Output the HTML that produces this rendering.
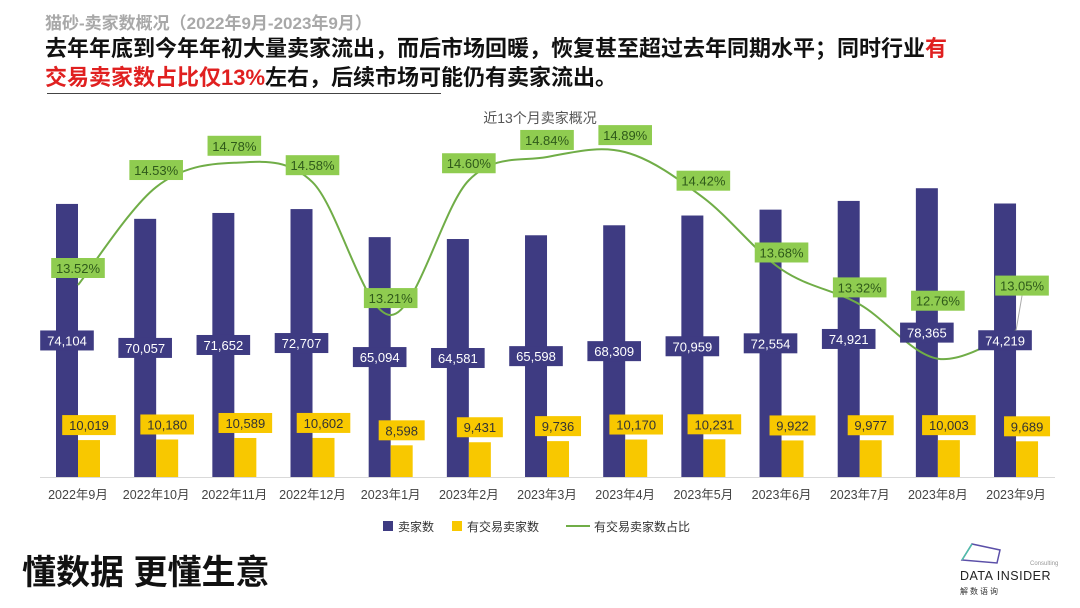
<!DOCTYPE html>
<html><head><meta charset="utf-8"><style>
body{margin:0;width:1080px;height:608px;background:#fff;overflow:hidden;position:relative;font-family:"Liberation Sans","Noto Sans CJK SC",sans-serif}
.t{position:absolute;white-space:nowrap}
</style></head><body>
<div class="t" style="left:45px;top:9px;font-size:17px;font-weight:bold;color:#a8a8a8">猫砂-卖家数概况（2022年9月-2023年9月）</div>
<div class="t" style="left:45px;top:34px;font-size:22px;font-weight:bold;color:#111;line-height:29px">去年年底到今年年初大量卖家流出，而后市场回暖，恢复甚至超过去年同期水平；同时行业<span style="color:#e02020">有</span><br><span style="color:#e02020">交易卖家数占比仅13%</span>左右，后续市场可能仍有卖家流出。</div>
<div style="position:absolute;left:47px;top:93px;width:394px;height:1px;background:#444"></div>
<div class="t" style="left:22px;top:545px;font-size:34px;font-weight:bold;color:#111">懂数据 更懂生意</div>
<svg width="1080" height="608" style="position:absolute;left:0;top:0" id="chart">
<text x="540" y="123" text-anchor="middle" font-size="14" fill="#555">近13个月卖家概况</text>
<line x1="40" y1="477.5" x2="1055" y2="477.5" stroke="#d9d9d9"/>
<g id="g"></g>
<g font-size="12" fill="#333">
<rect x="383" y="521" width="10" height="10" fill="#3e3b82"/><text x="398" y="531">卖家数</text>
<rect x="452" y="521" width="10" height="10" fill="#f8c800"/><text x="467" y="531">有交易卖家数</text>
<line x1="566" y1="526" x2="590" y2="526" stroke="#70ad47" stroke-width="2"/><text x="594" y="531">有交易卖家数占比</text>
</g>
<g>
<path d="M962 560 L972 544 L1000 550 L997 563 Z" fill="none" stroke="#5b4fa8" stroke-width="1.5"/>
<path d="M962 560 L972 544" stroke="#4ec1a8" stroke-width="1.5"/>
<text x="1030" y="565" font-size="6" fill="#999">Consulting</text>
<text x="960" y="580" font-size="12.5" fill="#222" letter-spacing="0.5">DATA INSIDER</text>
<text x="960" y="594" font-size="8" fill="#333" letter-spacing="2">解数语询</text>
</g>
</svg>
<script>
const categories=["2022年9月","2022年10月","2022年11月","2022年12月","2023年1月","2023年2月","2023年3月","2023年4月","2023年5月","2023年6月","2023年7月","2023年8月","2023年9月"];
const sellers=[74104,70057,71652,72707,65094,64581,65598,68309,70959,72554,74921,78365,74219];
const tradingSellers=[10019,10180,10589,10602,8598,9431,9736,10170,10231,9922,9977,10003,9689];
const ratio=[13.52,14.53,14.78,14.58,13.21,14.60,14.84,14.89,14.42,13.68,13.32,12.76,13.05];
const NS="http://www.w3.org/2000/svg",g=document.getElementById('g');
const base=477,xc=i=>78+i*78.17,yv=v=>base-v*0.003685,yr=v=>285-(v-13.52)*97;
function mk(t,a,p){const e=document.createElementNS(NS,t);for(const k in a)e.setAttribute(k,a[k]);(p||g).appendChild(e);return e}
function fmt(v){return v.toLocaleString('en-US')}
function lbl(x,y,txt,bg,fg,name){
const w=txt.length*7.6+8;
const r=mk('rect',{x:x-w/2,y:y-10,width:w,height:20,fill:bg});


const t=mk('text',{x:x,y:y+5,'text-anchor':'middle','font-size':13,fill:fg});t.textContent=txt;


}
categories.forEach((c,i)=>{
const x=xc(i);
const b=mk('rect',{x:x-22,y:yv(sellers[i]),width:22,height:base-yv(sellers[i]),fill:'#3e3b82'});


const y2=mk('rect',{x:x,y:yv(tradingSellers[i]),width:22,height:base-yv(tradingSellers[i]),fill:'#f8c800'});


const t=mk('text',{x:x,y:499,'text-anchor':'middle','font-size':12.5,fill:'#444'});t.textContent=c;


});
const pts=ratio.map((v,i)=>[xc(i),yr(v)]);
let d='M'+pts[0][0]+' '+pts[0][1];
for(let i=0;i<pts.length-1;i++){const p0=pts[i-1]||pts[i],p1=pts[i],p2=pts[i+1],p3=pts[i+2]||p2;
d+=` C${p1[0]+(p2[0]-p0[0])/6} ${p1[1]+(p2[1]-p0[1])/6} ${p2[0]-(p3[0]-p1[0])/6} ${p2[1]-(p3[1]-p1[1])/6} ${p2[0]} ${p2[1]}`;}
const ln=mk('path',{d:d,fill:'none',stroke:'#70ad47','stroke-width':2});


const n=categories.length;
categories.forEach((c,i)=>{
const x=xc(i);
lbl(x-11,(yv(sellers[i])+base)/2,fmt(sellers[i]),'#3e3b82','#fff','sellers');
lbl(x+11,yv(tradingSellers[i])-15,fmt(tradingSellers[i]),'#f8c800','#333','trading-sellers');
const last=i===n-1,aug=i===n-2;
const lx=last?x+6:x,ly=last?yr(ratio[i])-45:aug?yr(ratio[i])-58:yr(ratio[i])-17;
if(last){const l=mk('line',{x1:x,y1:yr(ratio[i]),x2:lx,y2:ly+10,stroke:'#aaa'});}
lbl(lx,ly,ratio[i].toFixed(2)+'%','#8fcc50','#2f5a1a','ratio');
});
</script>
</body></html>
